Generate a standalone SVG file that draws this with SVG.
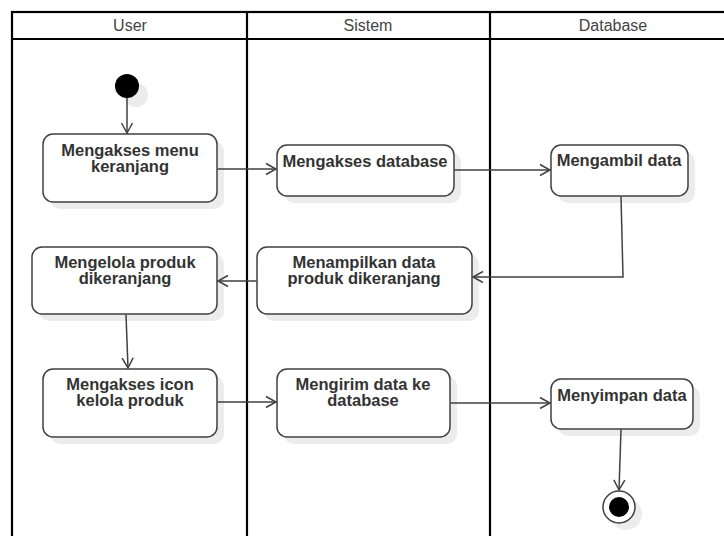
<svg xmlns="http://www.w3.org/2000/svg" width="724" height="536" viewBox="0 0 724 536">
  <defs>
    <marker id="open" markerUnits="userSpaceOnUse" markerWidth="14" markerHeight="14" refX="11" refY="7" orient="auto">
      <path d="M1,1.5 L11,7 L1,12.5" fill="none" stroke="#404040" stroke-width="1.5"/>
    </marker>
  </defs>
  <style>
    .lane { fill: none; stroke: #000; stroke-width: 2.2; }
    .head { font-family: "Liberation Sans", Arial, sans-serif; font-size: 16px; fill: #444; text-anchor: middle; }
    .box { fill: #fff; stroke: #404040; stroke-width: 1.5; }
    .shadow { fill: #ececec; stroke: none; }
    .label { font-family: "Liberation Sans", Arial, sans-serif; font-size: 16.5px; font-weight: bold; fill: #333; text-anchor: middle; }
    .edge { fill: none; stroke: #404040; stroke-width: 1.5; }
  </style>
  <rect width="724" height="536" fill="#fff"/>

  <!-- swimlanes -->
  <g id="lanes">
    <rect class="lane" x="12" y="12" width="724" height="540"/>
    <line class="lane" x1="12" y1="39" x2="736" y2="39"/>
    <line class="lane" x1="247" y1="12" x2="247" y2="540"/>
    <line class="lane" x1="490" y1="12" x2="490" y2="540"/>
    <text class="head" x="130" y="31">User</text>
    <text class="head" x="368" y="31">Sistem</text>
    <text class="head" x="613" y="31">Database</text>
  </g>

  <!-- start -->
  <g id="start">
    <circle cx="136" cy="95" r="12" fill="#ececec"/>
    <circle cx="127" cy="86" r="12" fill="#000"/>
  </g>

  <g id="n1">
    <rect class="shadow" x="50" y="141" width="174" height="68" rx="10"/>
    <rect class="box" x="43" y="134" width="174" height="68" rx="10"/>
    <text class="label" x="130" y="156">Mengakses menu</text>
    <text class="label" x="130" y="172">keranjang</text>
  </g>

  <g id="n2">
    <rect class="shadow" x="284" y="152" width="177" height="51" rx="10"/>
    <rect class="box" x="277" y="145" width="177" height="51" rx="10"/>
    <text class="label" x="365" y="167">Mengakses database</text>
  </g>

  <g id="n3">
    <rect class="shadow" x="558" y="152" width="137" height="51" rx="10"/>
    <rect class="box" x="551" y="145" width="137" height="51" rx="10"/>
    <text class="label" x="619" y="166">Mengambil data</text>
  </g>

  <g id="n4">
    <rect class="shadow" x="264" y="254" width="215" height="67" rx="10"/>
    <rect class="box" x="257" y="247" width="215" height="67" rx="10"/>
    <text class="label" x="364" y="268">Menampilkan data</text>
    <text class="label" x="364" y="284">produk dikeranjang</text>
  </g>

  <g id="n5">
    <rect class="shadow" x="39" y="254" width="185" height="67" rx="10"/>
    <rect class="box" x="32" y="247" width="185" height="67" rx="10"/>
    <text class="label" x="125" y="268">Mengelola produk</text>
    <text class="label" x="125" y="284">dikeranjang</text>
  </g>

  <g id="n6">
    <rect class="shadow" x="50" y="376" width="174" height="68" rx="10"/>
    <rect class="box" x="43" y="369" width="174" height="68" rx="10"/>
    <text class="label" x="130" y="390">Mengakses icon</text>
    <text class="label" x="130" y="406">kelola produk</text>
  </g>

  <g id="n7">
    <rect class="shadow" x="284" y="376" width="173" height="68" rx="10"/>
    <rect class="box" x="277" y="369" width="173" height="68" rx="10"/>
    <text class="label" x="363" y="390">Mengirim data ke</text>
    <text class="label" x="363" y="406">database</text>
  </g>

  <g id="n8">
    <rect class="shadow" x="558" y="386" width="142" height="50" rx="10"/>
    <rect class="box" x="551" y="379" width="142" height="50" rx="10"/>
    <text class="label" x="622" y="401">Menyimpan data</text>
  </g>

  <!-- end -->
  <g id="end">
    <circle cx="626" cy="514" r="16" fill="#ececec"/>
    <circle cx="619" cy="507" r="16" fill="#fff" stroke="#404040" stroke-width="1.5"/>
    <circle cx="619" cy="507" r="10" fill="#000"/>
  </g>

  <!-- connectors, drawn last so they run over the drop shadows -->
  <g id="connectors">
    <line class="edge" x1="127" y1="98" x2="127" y2="133" marker-end="url(#open)"/>
    <line class="edge" x1="217.5" y1="169" x2="276" y2="169" marker-end="url(#open)"/>
    <line class="edge" x1="454.5" y1="170" x2="550" y2="170" marker-end="url(#open)"/>
    <polyline class="edge" points="621,196.5 623,277 473,277" marker-end="url(#open)"/>
    <line class="edge" x1="256.5" y1="281" x2="218" y2="281" marker-end="url(#open)"/>
    <line class="edge" x1="126" y1="314.5" x2="128" y2="368" marker-end="url(#open)"/>
    <line class="edge" x1="217.5" y1="402" x2="276" y2="402" marker-end="url(#open)"/>
    <line class="edge" x1="450.5" y1="403" x2="550" y2="403" marker-end="url(#open)"/>
    <line class="edge" x1="621" y1="429.5" x2="619" y2="490" marker-end="url(#open)"/>
  </g>
</svg>
